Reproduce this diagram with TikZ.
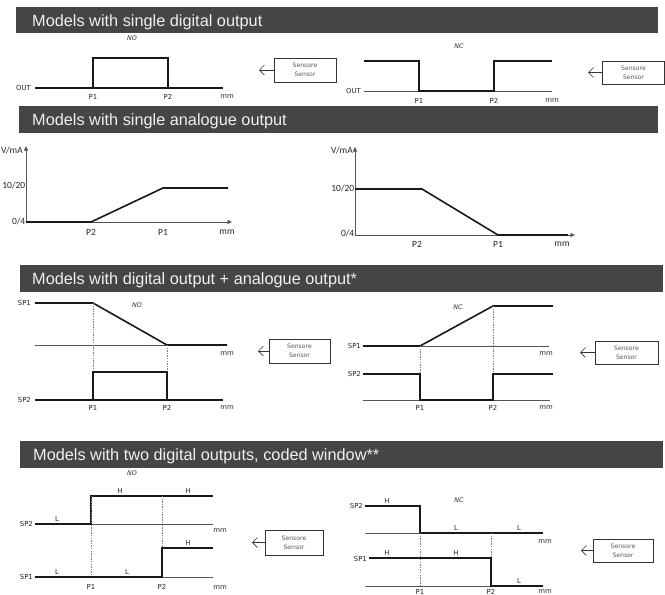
\documentclass[tikz,border=0pt]{standalone}
\usepackage{fontspec}
\setmainfont{DejaVu Sans}
\newfontfamily\titlef{Liberation Sans}
\newfontfamily\lblf{DejaVu Sans}
\newfontfamily\anf{Carlito}
\usetikzlibrary{arrows.meta}
\definecolor{barcol}{HTML}{454545}
\definecolor{thincol}{HTML}{555555}
\tikzset{
  barbox/.style={fill=barcol, draw=none},
  ttl/.style={font=\titlef\fontsize{16.3}{18}\selectfont, text=white!94!black, anchor=base west, inner sep=0},
  lbl/.style={font=\lblf\fontsize{6.9}{8}\selectfont, text=black!85, inner sep=0},
  albl/.style={font=\anf\fontsize{9.5}{11}\selectfont, text=black!85, inner sep=0},
  mode/.style={font=\lblf\itshape\fontsize{6.4}{8}\selectfont, text=black!80, inner sep=0},
  sensorbox/.style={draw=black!80, line width=0.7pt, align=center, text=black!65,
     font=\lblf\fontsize{6.1}{9}\selectfont, inner sep=0},
  sig/.style={line width=1.6pt, black!90, line join=miter},
  basel/.style={line width=0.8pt, thincol},
  guide/.style={line width=0.8pt, gray, dash pattern=on 1.4pt off 1.2pt},
  sarrow/.style={line width=0.6pt, black!80, -{Straight Barb[length=5pt,width=10pt]}},
  axisl/.style={line width=0.8pt, thincol, -{Triangle[length=4.5pt,width=4pt]}},
}
\begin{document}
\begin{tikzpicture}[x=1pt,y=-1pt]
\useasboundingbox (0,0) rectangle (665,595);
\fill[white] (0,0) rectangle (665,595);

% ===== header bars =====
\fill[barbox] (16,7) rectangle (658,33);
\node[ttl] (t1) at (32,26.5) {Models with single digital output};
\fill[barbox] (19,106) rectangle (658,133);
\node[ttl] (t2) at (32,125.5) {Models with single analogue output};
\fill[barbox] (20,265) rectangle (663,292);
\node[ttl] (t3) at (32,284.5) {Models with digital output + analogue output*};
\fill[barbox] (20,441) rectangle (663,468);
\node[ttl] (t4) at (33,460.5) {Models with two digital outputs, coded window**};

% ===== Section 1 left (NO) =====
\node[mode] (no1) at (132,38) {NO};
\node[lbl, anchor=east] (out1) at (31,88) {OUT};
\draw[sig] (35,88) -- (223,88);
\draw[sig] (93,88) -- (93,58) -- (168,58) -- (168,88);
\node[lbl] (p1a) at (93,97) {P1};
\node[lbl] (p2a) at (168,97) {P2};
\node[lbl] (mma) at (227,97) {mm};
\node[sensorbox, minimum width=62, minimum height=24] (s1) at (305,70) {Sensore\\Sensor};
\coordinate (s1t) at (259,70);
\draw[sarrow] (s1.west) -- (s1t);

% ===== Section 1 right (NC) =====
\node[mode] (nc1) at (459,46) {NC};
\node[lbl, anchor=east] (out2) at (361,91) {OUT};
\draw[basel] (364,91) -- (552,91);
\draw[sig] (364,61) -- (419,61) -- (419,91) -- (494,91) -- (494,61) -- (552,61);
\node[lbl] (p1b) at (419,101) {P1};
\node[lbl] (p2b) at (494,101) {P2};
\node[lbl] (mmb) at (552,101) {mm};
\node[sensorbox, minimum width=62, minimum height=23] (s2) at (633.5,72.5) {Sensore\\Sensor};
\coordinate (s2t) at (588,72.5);
\draw[sarrow] (s2.west) -- (s2t);

% ===== Section 2 left =====
\draw[axisl] (26,222) -- (26,146);
\draw[axisl] (26,222) -- (232,222);
\node[albl, anchor=east] (vma1) at (23,150) {V/mA};
\node[albl, anchor=east] (hi1) at (25.5,185) {10/20};
\node[albl, anchor=east] (lo1) at (25.5,221) {0/4};
\draw[sig] (26,222) -- (91,222) -- (163,188) -- (228,188);
\node[albl] (p2c) at (91,232) {P2};
\node[albl] (p1c) at (163,232) {P1};
\node[albl] (mmc) at (227,232) {mm};

% ===== Section 2 right =====
\draw[axisl] (355,235) -- (355,147);
\draw[axisl] (355,235) -- (575,235);
\node[albl, anchor=east] (vma2) at (353,150) {V/mA};
\node[albl, anchor=east] (hi2) at (354.5,188) {10/20};
\node[albl, anchor=east] (lo2) at (354.5,233) {0/4};
\draw[sig] (355,189) -- (422,189) -- (498,235) -- (568,235);
\node[albl] (p2d) at (417,244) {P2};
\node[albl] (p1d) at (498,244) {P1};
\node[albl] (mmd) at (562,244) {mm};

% ===== Section 3 left (NO) =====
\node[mode] (no3) at (137,305) {NO};
\node[lbl, anchor=east] (sp1e) at (31,303) {SP1};
\draw[basel] (35,345) -- (227,345);
\draw[sig] (35,303) -- (93,303) -- (167,345) -- (227,345);
\draw[guide] (93,303) -- (93,400);
\draw[guide] (167,345) -- (167,400);
\node[lbl] (mme1) at (227,354) {mm};
\node[lbl, anchor=east] (sp2e) at (31,400) {SP2};
\draw[sig] (35,400) -- (223,400);
\draw[sig] (93,400) -- (93,372) -- (167,372) -- (167,400);
\node[lbl] (p1e) at (93,408) {P1};
\node[lbl] (p2e) at (167,408) {P2};
\node[lbl] (mme2) at (227,408) {mm};
\node[sensorbox, minimum width=61, minimum height=24] (s3) at (299.5,351) {Sensore\\Sensor};
\coordinate (s3t) at (258,351);
\draw[sarrow] (s3.west) -- (s3t);

% ===== Section 3 right (NC) =====
\node[mode] (nc3) at (458,307) {NC};
\node[lbl, anchor=east] (sp1f) at (361,346) {SP1};
\draw[basel] (363,346) -- (549,346);
\draw[sig] (363,346) -- (420,346) -- (493,306) -- (553,306);
\draw[guide] (420,346) -- (420,400);
\draw[guide] (493,306) -- (493,400);
\node[lbl] (mmf1) at (546,354) {mm};
\node[lbl, anchor=east] (sp2f) at (361,374) {SP2};
\draw[basel] (363,400) -- (550,400);
\draw[sig] (363,374) -- (420,374) -- (420,400) -- (493,400) -- (493,374) -- (553,374);
\node[lbl] (p1f) at (420,408) {P1};
\node[lbl] (p2f) at (493,408) {P2};
\node[lbl] (mmf2) at (546,408) {mm};
\node[sensorbox, minimum width=63, minimum height=23] (s4) at (626.5,352.5) {Sensore\\Sensor};
\coordinate (s4t) at (580,352.5);
\draw[sarrow] (s4.west) -- (s4t);

% ===== Section 4 left (NO) =====
\node[mode] (no4) at (132,473) {NO};
\node[lbl, anchor=east] (sp2g) at (33,524) {SP2};
\draw[basel] (35,524) -- (213,524);
\draw[sig] (35,524) -- (91,524) -- (91,496) -- (213,496);
\draw[guide] (91,496) -- (91,577);
\draw[guide] (162,496) -- (162,548);
\node[lbl] (lg1) at (57,519) {L};
\node[lbl] (hg1) at (120,491) {H};
\node[lbl] (hg2) at (188,491) {H};
\node[lbl] (mmg1) at (220,531) {mm};
\node[lbl, anchor=east] (sp1g) at (33,577) {SP1};
\draw[basel] (35,577) -- (213,577);
\draw[sig] (35,577) -- (162,577) -- (162,548) -- (213,548);
\node[lbl] (lg2) at (57,572) {L};
\node[lbl] (lg3) at (127,572) {L};
\node[lbl] (hg3) at (188,543) {H};
\node[lbl] (p1g) at (91,587) {P1};
\node[lbl] (p2g) at (162,587) {P2};
\node[lbl] (mmg2) at (220,588) {mm};
\node[sensorbox, minimum width=58, minimum height=25] (s5) at (294,542.5) {Sensore\\Sensor};
\coordinate (s5t) at (252,542.5);
\draw[sarrow] (s5.west) -- (s5t);

% ===== Section 4 right (NC) =====
\node[mode] (nc4) at (459,500) {NC};
\node[lbl, anchor=east] (sp2h) at (363,506) {SP2};
\draw[basel] (365,533) -- (543,533);
\draw[sig] (365,506) -- (420,506) -- (420,533) -- (543,533);
\draw[guide] (420,533) -- (420,586);
\draw[guide] (491,533) -- (491,558);
\node[lbl] (hh1) at (387,501) {H};
\node[lbl] (lh1) at (456,528) {L};
\node[lbl] (lh2) at (519,528) {L};
\node[lbl] (mmh1) at (545,542) {mm};
\node[lbl, anchor=east] (sp1h) at (367,559) {SP1};
\draw[basel] (365,586) -- (543,586);
\draw[sig] (369,558) -- (491,558) -- (491,586) -- (543,586);
\node[lbl] (hh2) at (387,553) {H};
\node[lbl] (hh3) at (456,553) {H};
\node[lbl] (lh3) at (519,581) {L};
\node[lbl] (p1h) at (420,592) {P1};
\node[lbl] (p2h) at (491,592) {P2};
\node[lbl] (mmh2) at (545,592) {mm};
\node[sensorbox, minimum width=60, minimum height=23] (s6) at (623,550.5) {Sensore\\Sensor};
\coordinate (s6t) at (581,550.5);
\draw[sarrow] (s6.west) -- (s6t);
\end{tikzpicture}
\end{document}
